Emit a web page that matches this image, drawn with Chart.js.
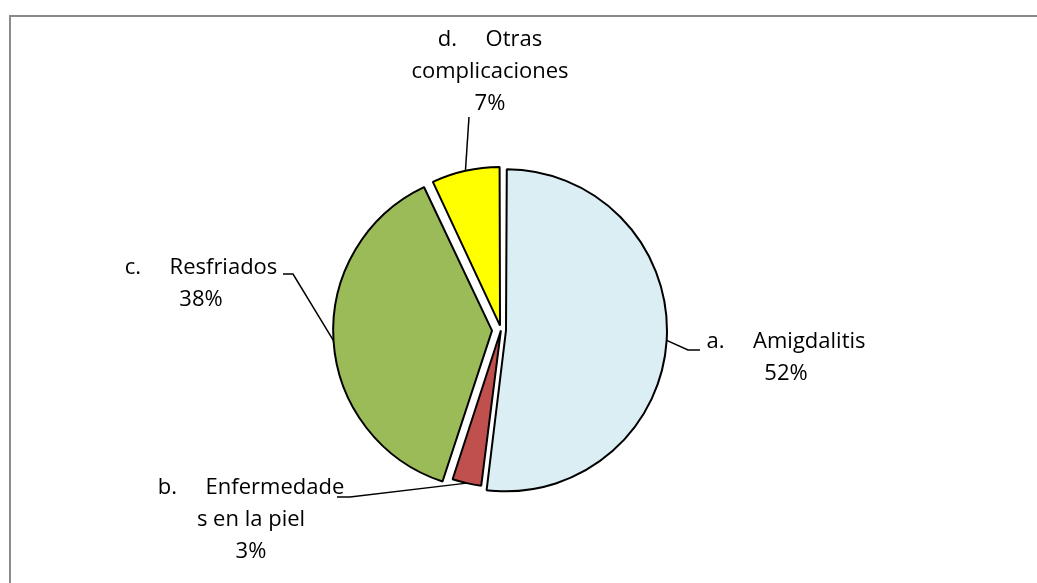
<!DOCTYPE html>
<html>
<head>
<meta charset="utf-8">
<script src="https://cdn.jsdelivr.net/npm/chart.js@4.4.1/dist/chart.umd.min.js"></script>
<style>
  html, body { margin: 0; padding: 0; background: #fff; }
  #wrap { width: 1037px; height: 583px; position: relative; }
</style>
</head>
<body>
<div id="wrap"><canvas id="chartPie"></canvas></div>
<script>
// ================= DATOS =================
const categories = ['a. Amigdalitis', 'b. Enfermedades en la piel', 'c. Resfriados', 'd. Otras complicaciones'];
const values = [52, 3, 38, 7];
const sliceColors = ['#DAEEF3', '#C0504D', '#9BBB59', '#FFFF00'];

// how the labels wrap inside their boxes
const labelLines = [
    ['a.     Amigdalitis'],
    ['b.     Enfermedade', 's en la piel'],
    ['c.     Resfriados'],
    ['d.     Otras', 'complicaciones']
];

// label box centers and leader line elbows
const labelPos = [
    { x: 786, y: 342, leader: [[688, 350], [700, 350]] },
    { x: 251, y: 488, leader: [[350, 497], [337, 497]] },
    { x: 201, y: 268, leader: [[293, 274], [283, 274]] },
    { x: 490, y: 40,  leader: [[469, 117]] }
];

// point on the outer edge of an arc, with chart.js offset logic
function arcEdge(arc) {
    const p = arc.getProps(['x', 'y', 'startAngle', 'endAngle', 'outerRadius', 'circumference'], true);
    const mid = (p.startAngle + p.endAngle) / 2;
    const o = (arc.options.offset || 0) / 4;
    const fix = 1 - Math.sin(Math.min(Math.PI, p.circumference || 0));
    const d = o + o * fix + p.outerRadius;
    return [p.x + Math.cos(mid) * d, p.y + Math.sin(mid) * d];
}

const frameAndLabels = {
    id: 'frameAndLabels',
    beforeDraw(chart) {
        const ctx = chart.ctx;
        ctx.save();
        ctx.strokeStyle = '#8a8a8a';
        ctx.lineWidth = 2;
        ctx.strokeRect(10, 16, 1200, 800);
        ctx.restore();
    },
    afterDraw(chart) {
        const ctx = chart.ctx;
        const arcs = chart.getDatasetMeta(0).data;
        ctx.save();
        ctx.strokeStyle = '#000';
        ctx.lineWidth = 1.5;
        arcs.forEach((arc, i) => {
            const start = arcEdge(arc);
            ctx.beginPath();
            ctx.moveTo(start[0], start[1]);
            labelPos[i].leader.forEach(pt => ctx.lineTo(pt[0], pt[1]));
            ctx.stroke();
        });
        ctx.fillStyle = '#000';
        ctx.font = '22px "Open Sans"';
        ctx.textAlign = 'center';
        ctx.textBaseline = 'middle';
        labelLines.forEach((lines, i) => {
            const all = lines.concat([values[i] + '%']);
            all.forEach((t, k) => ctx.fillText(t, labelPos[i].x, labelPos[i].y + k * 32));
        });
        ctx.restore();
    }
};

new Chart(document.getElementById('chartPie'), {
    type: 'pie',
    data: {
        labels: categories,
        datasets: [{
            data: values,
            backgroundColor: sliceColors,
            borderColor: '#000',
            borderWidth: 2,
            offset: [20, 2, 36, 18]
        }]
    },
    options: {
        responsive: true,
        maintainAspectRatio: false,
        animation: false,
        events: [],
        radius: 156,
        layout: { padding: { left: 0, right: 35, top: 77, bottom: 0 } },
        plugins: {
            legend: { display: false },
            tooltip: { enabled: false }
        }
    },
    plugins: [frameAndLabels]
});
</script>
</body>
</html>
